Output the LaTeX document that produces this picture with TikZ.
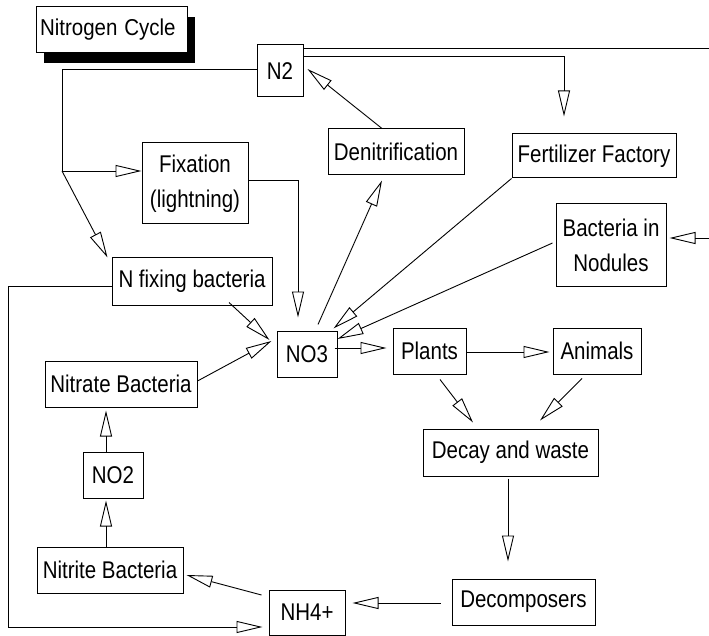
\documentclass[tikz,border=0pt]{standalone}
\usepackage{fontspec}
\usepackage{graphicx}
\setmainfont{Liberation Sans}
\usetikzlibrary{arrows.meta,shadows}
\newcommand\tx[1]{\scalebox{1}[1.18]{#1}}
\newcommand\ttl[1]{\scalebox{1}[1.12]{#1}}
\begin{document}
\begin{tikzpicture}[x=1pt,y=-1pt,
  box/.style={draw,line width=1pt,inner sep=0pt,align=center,fill=white,
    font=\fontsize{20.5}{35}\selectfont},
  conn/.style={line width=0.9pt},
  arr/.style={conn,-{Triangle[open,length=26pt,width=12pt]}},
  titlebox/.style={box,align=left,inner xsep=4pt,text width=143pt,
    drop shadow={shadow xshift=8pt,shadow yshift=-10pt,fill=black,opacity=1}}]
\useasboundingbox (0,0) rectangle (709,636);
% nodes
\node[titlebox,minimum height=46pt] (title) at (111.5,30) {\ttl{Nitrogen Cycle}};
\node[box,minimum width=46pt,minimum height=52pt] (N2) at (280,71) {\tx{N2}};
\node[box,minimum width=106pt,minimum height=81pt] (fix) at (195,183.5) {\tx{Fixation}\\\tx{(lightning)}};
\node[box,minimum width=136pt,minimum height=46pt] (denit) at (396,152) {\tx{Denitrification}};
\node[box,minimum width=164pt,minimum height=44pt] (fert) at (594,156) {\tx{Fertilizer Factory}};
\node[box,minimum width=110pt,minimum height=82pt] (nod) at (611,245) {\tx{Bacteria in}\\\tx{Nodules}};
\node[box,minimum width=160pt,minimum height=47pt] (nfix) at (192,281.5) {\tx{N fixing bacteria}};
\node[box,minimum width=60pt,minimum height=46pt] (no3) at (307,354) {\tx{NO3}};
\node[box,minimum width=73pt,minimum height=46pt] (plants) at (429.5,351) {\tx{Plants}};
\node[box,minimum width=88pt,minimum height=46pt] (animals) at (597,351) {\tx{Animals}};
\node[box,minimum width=152pt,minimum height=46pt] (nitrate) at (121,384) {\tx{Nitrate Bacteria}};
\node[box,minimum width=60pt,minimum height=46pt] (no2) at (113,475) {\tx{NO2}};
\node[box,minimum width=175pt,minimum height=47pt] (decay) at (510.5,452.5) {\tx{Decay and waste}};
\node[box,minimum width=146pt,minimum height=46pt] (nitrite) at (110,570) {\tx{Nitrite Bacteria}};
\node[box,minimum width=76pt,minimum height=45pt] (nh4) at (307,612.5) {\tx{NH4+}};
\node[box,minimum width=143pt,minimum height=46pt] (decomp) at (523.5,602) {\tx{Decomposers}};
% free-end coordinates
\coordinate (J) at (62,171);
\coordinate (L) at (8,627);
\coordinate (edgeA) at (709,48);
\coordinate (edgeB) at (709,238);
% connectors
\draw[conn] ([yshift=2pt]N2.west) -| (J);
\draw[arr] (J) -- (J -| fix.west);
\draw[arr] (J) -- ([xshift=-4pt]nfix.north west);
\draw[arr] ([yshift=3.5pt]fix.east) -| ([xshift=-9pt,yshift=13pt]no3.north);
\draw[arr] ([xshift=37pt,yshift=3pt]nfix.south) -- ([xshift=-7pt,yshift=14pt]no3.west);
\draw[arr] ([xshift=11pt,yshift=6pt]no3.north) -- ([xshift=-14pt,yshift=-5pt]denit.south);
\draw[arr] ([xshift=-14pt]denit.north) -- ([xshift=4pt,yshift=2pt]N2.east);
\draw[conn] ([yshift=23pt]N2.east) -- (edgeA);
\draw[arr] ([yshift=15pt]N2.east) -| ([xshift=-30pt,yshift=17pt]fert.north);
\draw[arr] (fert.south west) -- ([xshift=-4pt,yshift=2pt]no3.north east);
\draw[arr] (edgeB) -- ([xshift=3pt,yshift=7pt]nod.east);
\draw[arr] ([xshift=-3pt,yshift=2pt]nod.west) -- ([yshift=15pt]no3.east);
\draw[arr] ([xshift=-3pt,yshift=6pt]no3.east) -- ([xshift=-6pt,yshift=3pt]plants.west);
\draw[arr] ([yshift=-1pt]plants.east) -- ([xshift=-3pt,yshift=-1pt]animals.west);
\draw[arr] ([xshift=10.5pt,yshift=-5pt]plants.south) -- ([xshift=-37.5pt,yshift=6pt]decay.north);
\draw[arr] ([xshift=-15pt,yshift=-4pt]animals.south) -- ([xshift=29.5pt,yshift=8pt]decay.north);
\draw[arr] ([xshift=-2.5pt,yshift=-2pt]decay.south) -- ([xshift=-15.5pt,yshift=17pt]decomp.north);
\draw[arr] ([xshift=-11pt,yshift=-1pt]decomp.west) -- ([xshift=7pt,yshift=9.5pt]nh4.east);
\draw[arr] ([xshift=-7pt,yshift=17.5pt]nh4.west) -- ([xshift=3pt,yshift=-5pt]nitrite.east);
\draw[arr] ([xshift=-4pt]nitrite.north) -- ([xshift=-7pt,yshift=-2pt]no2.south);
\draw[arr] ([xshift=-7pt]no2.north) -- ([xshift=-15pt,yshift=-3pt]nitrate.south);
\draw[arr] ([yshift=3pt]nitrate.east) -- ([xshift=-5pt,yshift=13pt]no3.west);
\draw[arr] ([yshift=-4.5pt]nfix.west) -| (L) -- ([xshift=-6pt,yshift=-14.5pt]nh4.west);
\end{tikzpicture}
\end{document}
